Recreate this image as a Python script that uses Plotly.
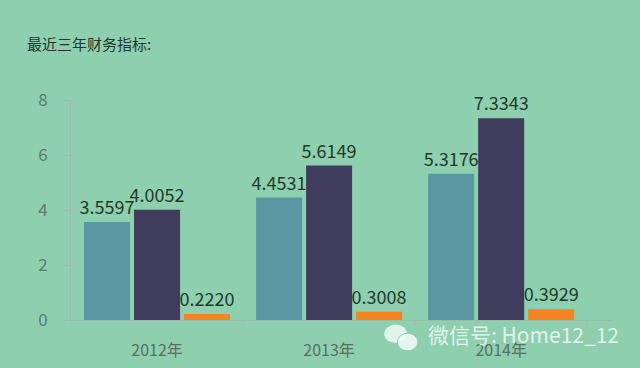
import plotly.graph_objects as go

categories = ["2012年", "2013年", "2014年"]
series_a = [3.5597, 4.4531, 5.3176]
series_b = [4.0052, 5.6149, 7.3343]
series_c = [0.2220, 0.3008, 0.3929]
y_ticks = [0, 2, 4, 6, 8]

colors = ["#5b97a3", "#3f3c5d", "#f5831f"]
font_family = "Noto Sans CJK SC, Microsoft YaHei, sans-serif"

fig = go.Figure()
for vals, col in zip([series_a, series_b, series_c], colors):
    fig.add_trace(go.Bar(
        x=categories, y=vals, marker=dict(color=col, line=dict(width=0)),
        text=[f"{v:.4f}" for v in vals], textposition="outside",
        constraintext="none", cliponaxis=False,
        textfont=dict(size=18, color="#1e3b28", family=font_family),
    ))

fig.update_layout(
    width=640, height=368,
    paper_bgcolor="#8ecfb0", plot_bgcolor="#8ecfb0",
    margin=dict(l=71, r=27, t=100, b=48),
    barmode="group", bargap=0.128, bargroupgap=0.08,
    showlegend=False,
    font=dict(family=font_family),
    xaxis=dict(
        range=[-0.5, 2.65], showline=True, linecolor="#9fb9aa", linewidth=1,
        ticks="", tickfont=dict(size=16, color="#587060"), ticklabelstandoff=16,
        showgrid=False, zeroline=False, automargin=False,
    ),
    yaxis=dict(
        range=[0, 8], tickvals=y_ticks, showline=True, linecolor="#9fb9aa",
        linewidth=1, ticks="outside", ticklen=7, tickcolor="#9fb9aa",
        ticklabelstandoff=12, automargin=False,
        tickfont=dict(size=17, color="#5d7b6b"), showgrid=False, zeroline=False,
    ),
    annotations=[
        dict(text="最近三年财务指标:", xref="paper", yref="paper", x=-0.085, y=1.255,
             xanchor="left", yanchor="middle", showarrow=False,
             font=dict(size=15, color="#25362c", family=font_family)),
        dict(text="微信号: Home12_12", xref="paper", yref="paper", x=1.015, y=-0.065,
             xanchor="right", yanchor="middle", showarrow=False,
             font=dict(size=21, color="rgba(240,250,245,0.85)", family=font_family)),
    ],
)

# category boundary ticks on the x axis
for b in [-0.5, 0.5, 1.5, 2.5]:
    fig.add_shape(type="line", xref="x", yref="paper", x0=b, x1=b, y0=0, y1=-0.025,
                  line=dict(color="#9fb9aa", width=1))

# small WeChat-like icon (two bubbles)
fig.add_shape(type="circle", xref="paper", yref="paper", x0=0.578, x1=0.620, y0=-0.02, y1=-0.105,
              fillcolor="rgba(240,250,245,0.85)", line=dict(width=0))
fig.add_shape(type="circle", xref="paper", yref="paper", x0=0.602, x1=0.640, y0=-0.06, y1=-0.14,
              fillcolor="rgba(240,250,245,0.9)", line=dict(color="#8ecfb0", width=1))

fig.write_html("out.html", config={"displayModeBar": False},
               post_script="document.body.style.margin='0px';")
